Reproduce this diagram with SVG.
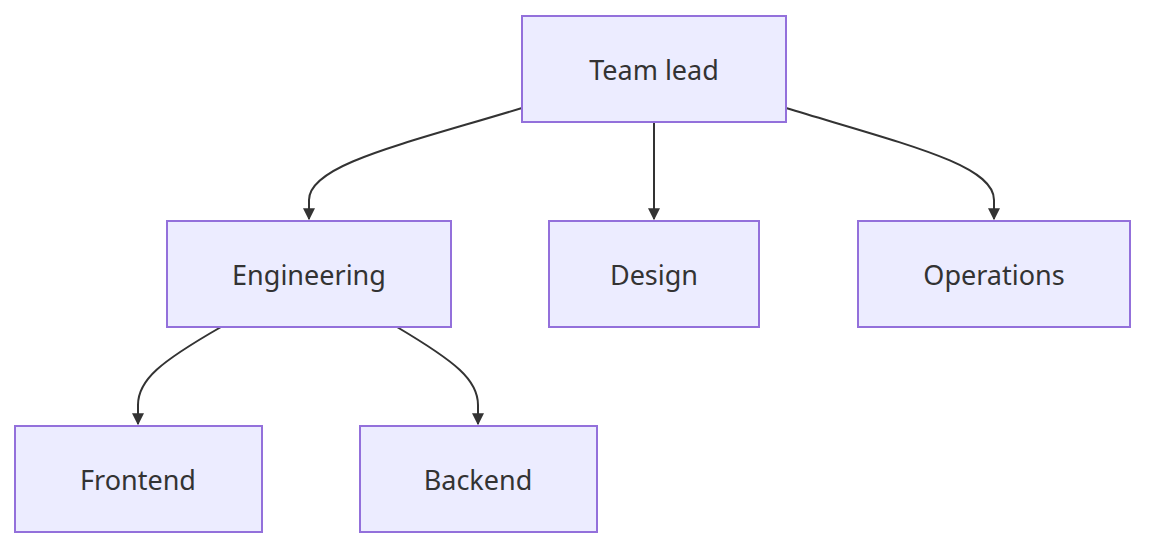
<svg xmlns="http://www.w3.org/2000/svg" width="1162" height="556" viewBox="0 0 1162 556">
<style>
.n rect{fill:#ECECFF;stroke:#9370DB;stroke-width:2}
.n text{font-family:"Noto Sans","Open Sans",sans-serif;font-size:27px;fill:#333;text-anchor:middle;dominant-baseline:central}
.e path{fill:none;stroke:#333;stroke-width:2}
</style>
<defs><marker id="a" viewBox="0 0 10 10" refX="9" refY="5" markerWidth="6" markerHeight="6" orient="auto"><path d="M0,0L10,5L0,10z" fill="#333"/></marker></defs>
<rect width="1162" height="556" fill="#fff"/>
<g class="e">
<path d="M522,108 C400,145 309,165 309,200 L309,219" marker-end="url(#a)"/>
<path d="M654,122 L654,219" marker-end="url(#a)"/>
<path d="M786,108 C908,145 994,165 994,200 L994,219" marker-end="url(#a)"/>
<path d="M221,327 C160,362 138,380 138,405 L138,424" marker-end="url(#a)"/>
<path d="M397,327 C456,362 478,380 478,405 L478,424" marker-end="url(#a)"/>
</g>
<g id="teamlead" class="n"><rect x="522" y="16" width="264" height="106"/><text x="654" y="69">Team lead</text></g>
<g id="engineering" class="n"><rect x="167" y="221" width="284" height="106"/><text x="309" y="274">Engineering</text></g>
<g id="design" class="n"><rect x="549" y="221" width="210" height="106"/><text x="654" y="274">Design</text></g>
<g id="operations" class="n"><rect x="858" y="221" width="272" height="106"/><text x="994" y="274">Operations</text></g>
<g id="frontend" class="n"><rect x="15" y="426" width="247" height="106"/><text x="138" y="479">Frontend</text></g>
<g id="backend" class="n"><rect x="360" y="426" width="237" height="106"/><text x="478" y="479">Backend</text></g>
</svg>
